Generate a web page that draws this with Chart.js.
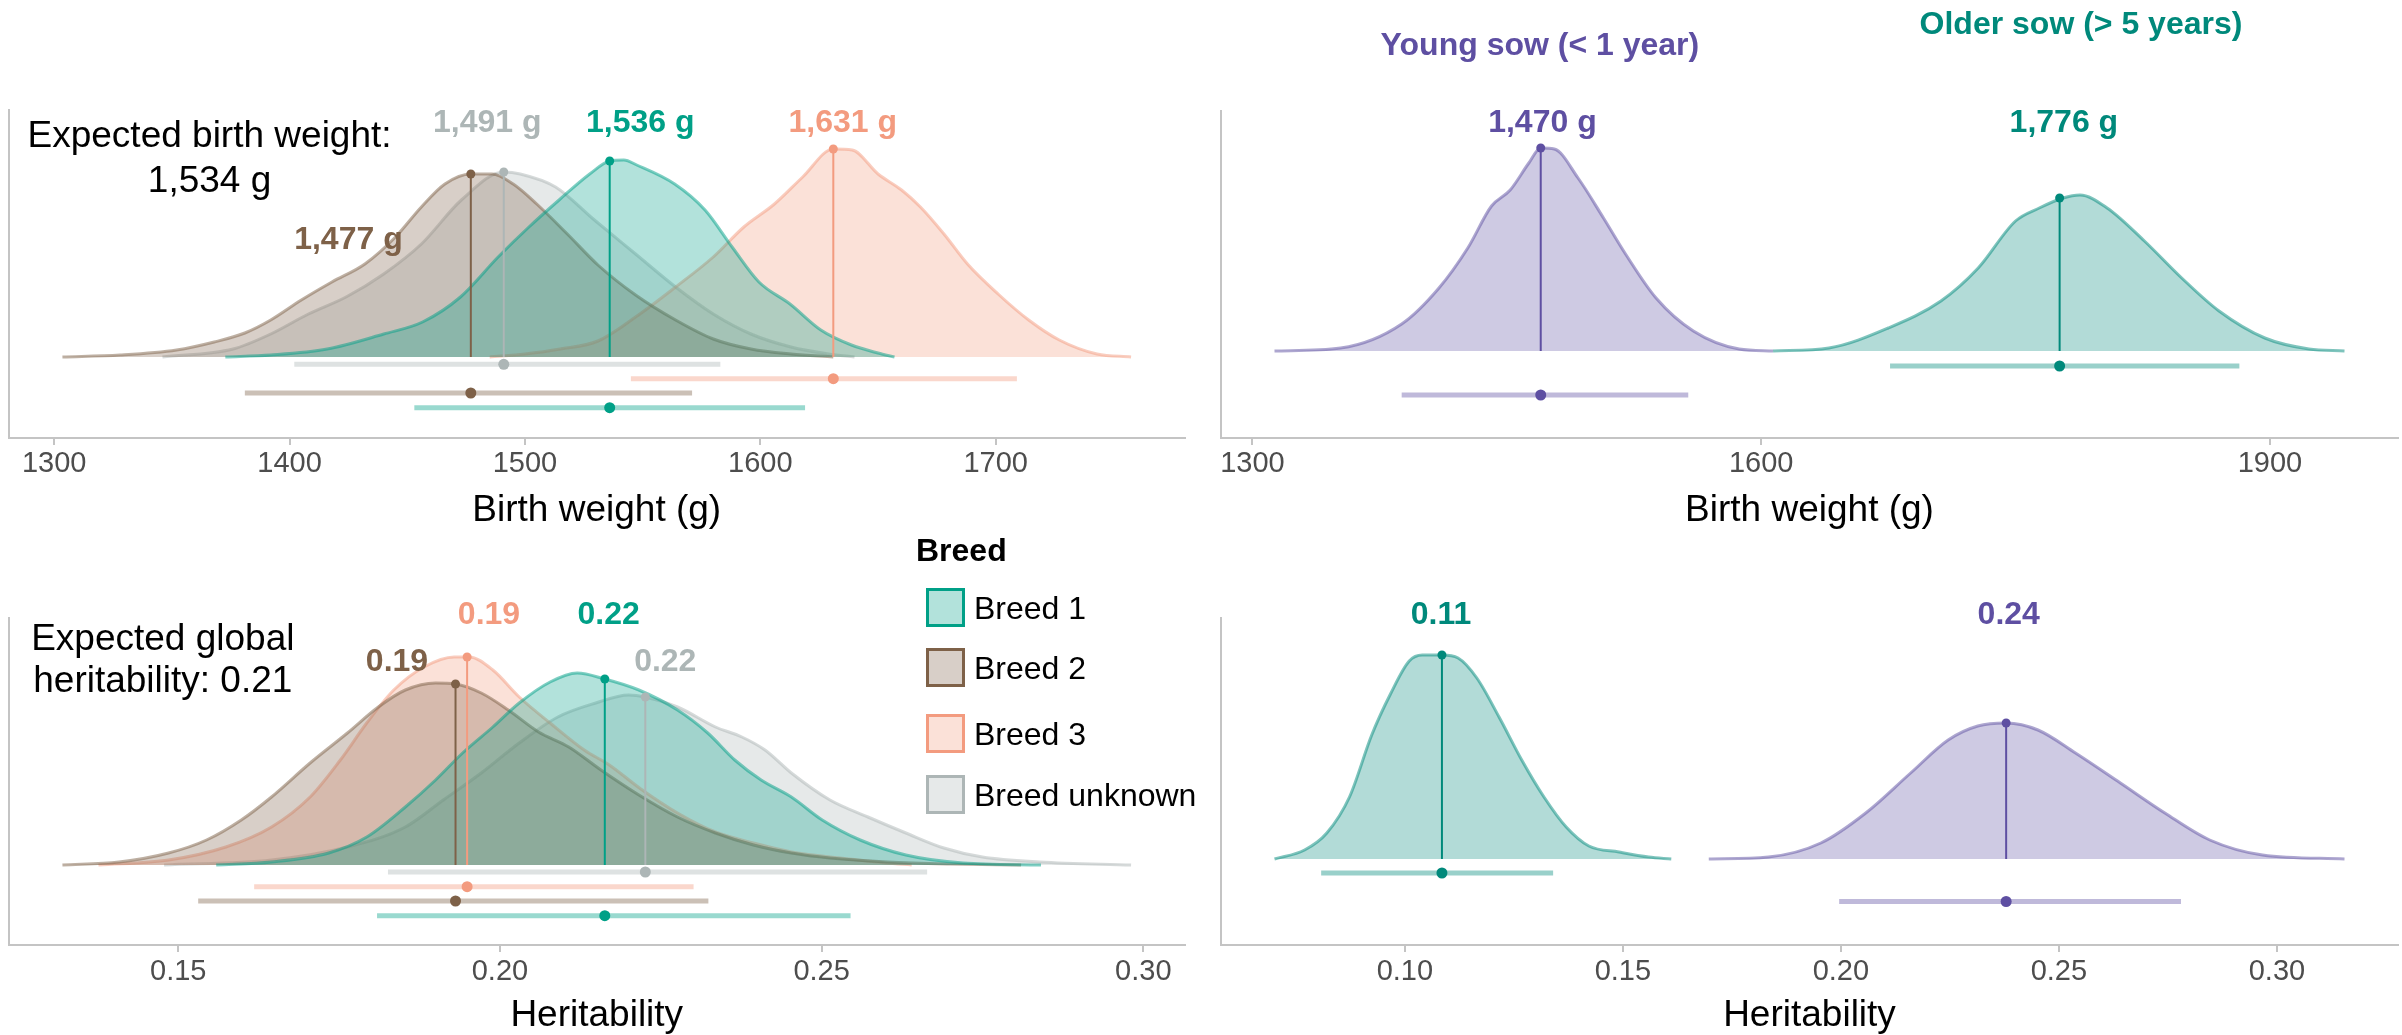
<!DOCTYPE html>
<html>
<head>
<meta charset="utf-8">
<script src="https://cdn.jsdelivr.net/npm/chart.js@4.4.1/dist/chart.umd.min.js"></script>
<style>
  html, body { margin: 0; padding: 0; background: #ffffff; }
  body { width: 2402px; height: 1035px; position: relative; overflow: hidden;
         font-family: "Liberation Sans", Arial, sans-serif; }
  canvas { position: absolute; }
  .lg-title { position: absolute; left: 916px; top: 534px; font-size: 32px; line-height: 32px; font-weight: bold; color: #000; }
  .lg-box { position: absolute; left: 926px; width: 39px; height: 39px; box-sizing: border-box; border: 3px solid; }
  .lg-text { position: absolute; left: 974px; font-size: 32px; line-height: 32px; color: #000; white-space: nowrap; }
</style>
</head>
<body>
<canvas id="tl" width="1200" height="440" style="left:0px;top:100px"></canvas>
<canvas id="tr" width="1202" height="540" style="left:1200px;top:0px"></canvas>
<canvas id="bl" width="1200" height="500" style="left:0px;top:540px"></canvas>
<canvas id="br" width="1202" height="500" style="left:1200px;top:540px"></canvas>
<div id="legend"></div>
<script>
// ================= DATA =================
const breedNames = ['Breed 1', 'Breed 2', 'Breed 3', 'Breed unknown'];
const sowNames = ['Young sow (< 1 year)', 'Older sow (> 5 years)'];

// Birth weight by breed: posterior density curves [birth weight (g), density (relative)]
const bwBreed1 = [[1372.7,0],[1392,2],[1416,8],[1440,23],[1456.5,35],[1472.6,60],[1488.6,100],[1501.7,130],[1514.5,157],[1527.5,183],[1536,196],[1542,197],[1547.5,192],[1563.6,173],[1576.5,147],[1588,110],[1599.4,75],[1612.6,53],[1625.7,27],[1638.7,12],[1650,4],[1657,0]];
const bwBreed2 = [[1303.5,0],[1328,2],[1352,7],[1368,15],[1381,24],[1392,37],[1405,57],[1418,75],[1432,93],[1445,120],[1456,150],[1466,173],[1477,183],[1486,183],[1495,173],[1505,153],[1518,123],[1531,92],[1547,62],[1564,37],[1580,18],[1596,8],[1613,3],[1631,0]];
const bwBreed3 = [[1485,0],[1500,3],[1515,8],[1531,16],[1547,40],[1564,70],[1580,100],[1593,130],[1606,153],[1618,180],[1631,208],[1639,207],[1650,183],[1660,167],[1668,150],[1678,123],[1688,93],[1701,63],[1714,37],[1727,17],[1743,3],[1757.5,0]];
const bwBreedUnk = [[1346,0],[1376,8],[1392,23],[1408,43],[1424,60],[1440,83],[1456,113],[1473,157],[1491,185],[1498,183],[1513,170],[1529,138],[1547,103],[1564,70],[1580,43],[1596,23],[1613,10],[1629,3],[1640,0]];
const bwMedians = [1536, 1477, 1631, 1491];
const bwMedianDensity = [196, 183, 208, 185];
const bwLow = [1453, 1381, 1545, 1402];
const bwHigh = [1619, 1571, 1709, 1583];
const bwExpected = 1534;

// Birth weight by sow age
const bwYoung = [[1313,0],[1352,3],[1388,27],[1410,63],[1427,103],[1441,145],[1452,161],[1463,188],[1470,203],[1478,202],[1492,173],[1507,133],[1520,97],[1538,53],[1560,20],[1587,2],[1607,0]];
const bwOlder = [[1607,0],[1640,3],[1675,23],[1706,50],[1728,83],[1750,130],[1764,143],[1778,153],[1788,156],[1804,143],[1826,110],[1848,73],[1870,40],[1897,13],[1923,2],[1944,0]];
const bwSowMedians = [1470, 1776];
const bwSowMedianDensity = [203, 153];
const bwSowLow = [1388, 1676];
const bwSowHigh = [1557, 1882];

// Heritability by breed
const hBreed1 = [[0.1559,0],[0.1645,3],[0.1734,12],[0.1793,28],[0.1853,58],[0.1900,85],[0.1942,112],[0.1989,138],[0.2030,162],[0.2078,183],[0.2120,192],[0.2163,186],[0.2216,175],[0.2276,155],[0.2323,132],[0.2365,105],[0.2406,85],[0.2453,68],[0.2501,45],[0.2560,25],[0.2631,10],[0.2720,2],[0.2841,0]];
const hBreed2 = [[0.1320,0],[0.1408,3],[0.1485,12],[0.1544,25],[0.1598,45],[0.1645,68],[0.1705,102],[0.1763,132],[0.1811,158],[0.1853,175],[0.1900,182],[0.1931,181],[0.1971,172],[0.2013,155],[0.2060,133],[0.2107,118],[0.2157,95],[0.2216,70],[0.2276,48],[0.2335,32],[0.2394,20],[0.2453,12],[0.2513,7],[0.2602,3],[0.2700,1],[0.2810,0]];
const hBreed3 = [[0.1376,0],[0.1485,5],[0.1574,18],[0.1645,38],[0.1705,68],[0.1752,105],[0.1793,142],[0.1835,175],[0.1882,198],[0.1929,208],[0.1952,208],[0.1989,195],[0.2030,168],[0.2078,142],[0.2131,115],[0.2170,100],[0.2219,76],[0.2276,52],[0.2335,33],[0.2394,22],[0.2453,13],[0.2543,6],[0.2600,2],[0.2640,0]];
const hBreedUnk = [[0.1478,0],[0.1645,5],[0.1763,18],[0.1853,38],[0.1912,65],[0.1971,92],[0.2030,122],[0.2090,148],[0.2149,162],[0.2200,170],[0.2226,168],[0.2276,158],[0.2335,138],[0.2376,128],[0.2412,115],[0.2453,92],[0.2513,65],[0.2572,48],[0.2631,32],[0.2690,17],[0.2750,8],[0.2839,3],[0.2981,0]];
const hMedians = [0.2163, 0.1931, 0.1949, 0.2226];
const hMedianDensity = [186, 181, 208, 168];
const hLow = [0.1809, 0.1531, 0.1618, 0.1826];
const hHigh = [0.2545, 0.2324, 0.2301, 0.2664];
const hExpected = 0.21;

// Heritability by sow age
const hYoung = [[0.1697,0],[0.1834,2],[0.1954,16],[0.2057,46],[0.2160,86],[0.2246,119],[0.2314,133],[0.2379,136],[0.2452,129],[0.2538,106],[0.2641,76],[0.2743,46],[0.2846,19],[0.2967,4],[0.3155,0]];
const hOlder = [[0.0701,0],[0.0770,9],[0.0821,26],[0.0873,62],[0.0924,124],[0.0967,165],[0.1010,198],[0.1040,204],[0.1085,204],[0.1122,201],[0.1165,181],[0.1216,142],[0.1268,99],[0.1319,62],[0.1370,32],[0.1422,13],[0.1491,7],[0.1559,2],[0.1611,0]];
const hSowMedians = [0.2379, 0.1085];
const hSowMedianDensity = [136, 204];
const hSowLow = [0.1996, 0.0808];
const hSowHigh = [0.2780, 0.1340];

// Tick labels
const bwBreedTicks = [1300, 1400, 1500, 1600, 1700];
const bwSowTicks = [1300, 1600, 1900];
const hBreedTicks = [0.15, 0.20, 0.25, 0.30];
const hSowTicks = [0.10, 0.15, 0.20, 0.25, 0.30];

// ================= STYLE / LAYOUT =================
const breedColors = ['#00A087', '#7E6148', '#F39B7F', '#ADB6B6'];
const sowColors = ['#5E4FA2', '#00897B'];
const FONT = '"Liberation Sans", Arial, sans-serif';
Chart.defaults.font.family = FONT;

function rgba(hex, a) {
  const n = parseInt(hex.slice(1), 16);
  return `rgba(${(n >> 16) & 255},${(n >> 8) & 255},${n & 255},${a})`;
}
const fmtG = v => v.toLocaleString('en-US') + ' g';
const fmtH = v => v.toFixed(2);

const textPlugin = {
  id: 'panelText',
  afterDatasetsDraw(chart, args, opts) {
    const { ctx } = chart;
    const xs = chart.scales.x, ys = chart.scales.y;
    ctx.save();
    (opts.items || []).forEach(it => {
      ctx.font = `${it.bold ? 'bold ' : ''}${it.size}px ${FONT}`;
      ctx.fillStyle = it.color;
      ctx.textAlign = 'center';
      ctx.textBaseline = 'middle';
      ctx.fillText(it.text, xs.getPixelForValue(it.x), ys.getPixelForValue(it.y));
    });
    ctx.restore();
  }
};

function buildPanel(id, p) {
  const datasets = [];
  const allX = p.curves.flat().map(d => d[0]);
  const lo = Math.min(...allX), hi = Math.max(...allX);
  const ex = (hi - lo) * 0.05;
  p.curves.forEach((c, i) => {
    const col = p.colors[i];
    datasets.push({
      data: c.map(d => ({ x: d[0], y: d[1] })),
      borderColor: rgba(col, 0.5), borderWidth: 3,
      backgroundColor: rgba(col, 0.3), fill: 'origin',
      pointRadius: 0, cubicInterpolationMode: 'monotone', order: 20 + i
    });
    datasets.push({
      data: [{ x: p.medians[i], y: 0 }, { x: p.medians[i], y: p.medDens[i] }],
      borderColor: col, borderWidth: 2, pointRadius: [0, 4.5],
      pointBackgroundColor: col, pointBorderWidth: 0, fill: false, order: 10
    });
    datasets.push({
      data: [{ x: p.lows[i], y: p.rows[i] }, { x: p.highs[i], y: p.rows[i] }],
      borderColor: rgba(col, 0.4), borderWidth: 5, borderCapStyle: 'butt',
      pointRadius: 0, fill: false, order: 5
    });
    datasets.push({
      data: [{ x: p.medians[i], y: p.rows[i] }], showLine: false,
      pointRadius: 5.5, pointBackgroundColor: col, pointBorderWidth: 0, order: 1
    });
  });
  return new Chart(document.getElementById(id), {
    type: 'line',
    data: { datasets },
    plugins: [textPlugin],
    options: {
      responsive: false, animation: false, events: [],
      layout: { autoPadding: false, padding: p.pad },
      plugins: { legend: { display: false }, tooltip: { enabled: false }, panelText: { items: p.labels } },
      scales: {
        x: {
          type: 'linear', min: lo - ex, max: hi + ex,
          afterBuildTicks: s => { s.ticks = p.ticks.map(v => ({ value: v })); },
          afterFit: s => { s.height = p.axisH; },
          ticks: { callback: p.tickFmt, color: '#4D4D4D', font: { size: 29 }, padding: p.tickPad, maxRotation: 0, autoSkip: false },
          grid: { drawOnChartArea: false, drawTicks: true, tickLength: 7, color: '#C4C4C4', lineWidth: 2 },
          border: { display: true, color: '#C4C4C4', width: 2 },
          title: { display: true, text: p.title, color: '#000', font: { size: 37 }, padding: { top: 0, bottom: p.titlePad } }
        },
        y: {
          type: 'linear', min: p.yMin, max: p.yMax,
          ticks: { display: false },
          grid: { display: false, drawTicks: false },
          border: { display: true, color: '#C4C4C4', width: 2 }
        }
      }
    }
  });
}

// ---- Top left: birth weight by breed ----
const tlLabelPos = [[1549, 234], [1425, 117], [1635, 234], [1484, 234]];
buildPanel('tl', {
  curves: [bwBreed1, bwBreed2, bwBreed3, bwBreedUnk], colors: breedColors,
  medians: bwMedians, medDens: bwMedianDensity, lows: bwLow, highs: bwHigh,
  rows: [-50.7, -36, -21.7, -7.3], yMin: -81, yMax: 247,
  pad: { left: 9, right: 15.5, top: 10, bottom: 0 }, axisH: 102, tickPad: 2, titlePad: 7,
  ticks: bwBreedTicks, tickFmt: v => String(v), title: 'Birth weight (g)',
  labels: bwMedians.map((m, i) => ({ text: fmtG(m), x: tlLabelPos[i][0], y: tlLabelPos[i][1], color: breedColors[i], bold: true, size: 32 }))
    .concat([
      { text: 'Expected birth weight:', x: 1366, y: 220, color: '#000', size: 37 },
      { text: fmtG(bwExpected), x: 1366, y: 175, color: '#000', size: 37 }
    ])
});

// ---- Top right: birth weight by sow age ----
const trLabelPos = [[1471, 228], [1778.5, 228]];
const trHeaderPos = [[1469.5, 305], [1788.6, 326]];
buildPanel('tr', {
  curves: [bwYoung, bwOlder], colors: sowColors,
  medians: bwSowMedians, medDens: bwSowMedianDensity, lows: bwSowLow, highs: bwSowHigh,
  rows: [-44, -15], yMin: -87, yMax: 240,
  pad: { left: 21, right: 4, top: 111, bottom: 0 }, axisH: 102, tickPad: 2, titlePad: 7,
  ticks: bwSowTicks, tickFmt: v => String(v), title: 'Birth weight (g)',
  labels: bwSowMedians.map((m, i) => ({ text: fmtG(m), x: trLabelPos[i][0], y: trLabelPos[i][1], color: sowColors[i], bold: true, size: 32 }))
    .concat(sowNames.map((n, i) => ({ text: n, x: trHeaderPos[i][0], y: trHeaderPos[i][1], color: sowColors[i], bold: true, size: 32 })))
});

// ---- Bottom left: heritability by breed ----
const blLabelPos = [[0.2169, 250], [0.1840, 203], [0.1983, 250], [0.2257, 203]];
buildPanel('bl', {
  curves: [hBreed1, hBreed2, hBreed3, hBreedUnk], colors: breedColors,
  medians: hMedians, medDens: hMedianDensity, lows: hLow, highs: hHigh,
  rows: [-50.7, -36, -21.7, -7], yMin: -80, yMax: 247,
  pad: { left: 9, right: 15.5, top: 78, bottom: 0 }, axisH: 95, tickPad: 3, titlePad: 2,
  ticks: hBreedTicks, tickFmt: v => v.toFixed(2), title: 'Heritability',
  labels: hMedians.map((m, i) => ({ text: fmtH(m), x: blLabelPos[i][0], y: blLabelPos[i][1], color: breedColors[i], bold: true, size: 32 }))
    .concat([
      { text: 'Expected global', x: 0.1476, y: 225, color: '#000', size: 37 },
      { text: 'heritability: ' + fmtH(hExpected), x: 0.1476, y: 183, color: '#000', size: 37 }
    ])
});

// ---- Bottom right: heritability by sow age ----
const brLabelPos = [[0.2385, 244], [0.1083, 244]];
buildPanel('br', {
  curves: [hYoung, hOlder], colors: sowColors,
  medians: hSowMedians, medDens: hSowMedianDensity, lows: hSowLow, highs: hSowHigh,
  rows: [-42.5, -14], yMin: -86, yMax: 241,
  pad: { left: 21, right: 4, top: 78, bottom: 0 }, axisH: 95, tickPad: 3, titlePad: 2,
  ticks: hSowTicks, tickFmt: v => v.toFixed(2), title: 'Heritability',
  labels: hSowMedians.map((m, i) => ({ text: fmtH(m), x: brLabelPos[i][0], y: brLabelPos[i][1], color: sowColors[i], bold: true, size: 32 }))
});

// ---- Legend (HTML text) ----
const legendRowCenters = [607.5, 667.5, 733.5, 794.5];
const legend = document.getElementById('legend');
const t = document.createElement('div');
t.className = 'lg-title'; t.textContent = 'Breed'; legend.appendChild(t);
breedNames.forEach((n, i) => {
  const b = document.createElement('div');
  b.className = 'lg-box';
  b.style.top = (legendRowCenters[i] - 19.5) + 'px';
  b.style.borderColor = breedColors[i];
  b.style.background = rgba(breedColors[i], 0.3);
  legend.appendChild(b);
  const s = document.createElement('div');
  s.className = 'lg-text';
  s.style.top = (legendRowCenters[i] - 15.6) + 'px';
  s.textContent = n;
  legend.appendChild(s);
});
</script>
</body>
</html>
